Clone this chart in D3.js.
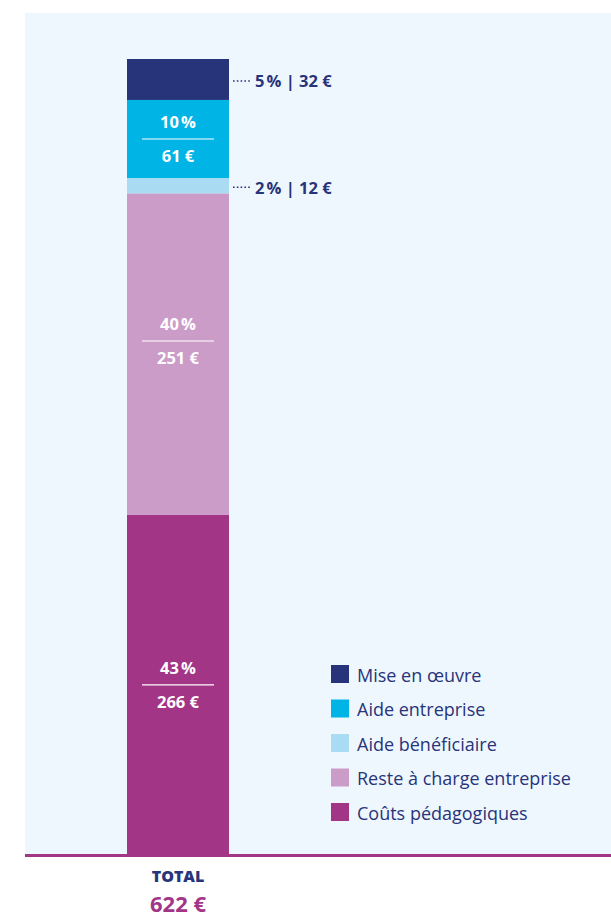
<!DOCTYPE html>
<html><head><meta charset="utf-8">
<script src="https://cdn.jsdelivr.net/npm/d3@7"></script>
<style>html,body{margin:0;padding:0;background:#fff;}svg{display:block;}</style>
</head><body>
<script>
// Data (stack order: bottom to top)
const categories = ["Coûts pédagogiques", "Reste à charge entreprise", "Aide bénéficiaire", "Aide entreprise", "Mise en œuvre"];
const values = [266, 251, 12, 61, 32];
const percents = [43, 40, 2, 10, 5];
const total = 622;
const legendOrder = ["Mise en œuvre", "Aide entreprise", "Aide bénéficiaire", "Reste à charge entreprise", "Coûts pédagogiques"];
const colors = ["#a33587", "#cc9cc9", "#a9dcf3", "#00b4e5", "#27347a"];
const insideLabel = [true, true, false, true, false];

const W = 611, H = 918;
const svg = d3.select("body").append("svg").attr("width", W).attr("height", H);
const navy = "#27347a", magenta = "#a33587";
const font = "'Open Sans', sans-serif";

// background panel
svg.append("rect").attr("x", 25).attr("y", 13).attr("width", W - 25).attr("height", 855 - 13).attr("fill", "#eff7fe");

const y = d3.scaleLinear().domain([0, total]).range([855, 59]);
const x = d3.scaleBand().domain(["TOTAL"]).range([127, 229]).padding(0);

// stacked data
const stackRows = [Object.fromEntries(categories.map((c, i) => [c, values[i]]))];
const series = d3.stack().keys(categories)(stackRows);
const color = d3.scaleOrdinal().domain(categories).range(colors);

svg.append("g").selectAll("rect").data(series).join("rect")
  .attr("x", x("TOTAL")).attr("width", x.bandwidth())
  .attr("y", d => y(d[0][1])).attr("height", d => y(d[0][0]) - y(d[0][1]))
  .attr("fill", d => color(d.key));

const cx = x("TOTAL") + x.bandwidth() / 2;
const labelShift = {"Reste à charge entreprise": -13};

series.forEach((s, i) => {
  const mid = (y(s[0][0]) + y(s[0][1])) / 2;
  if (insideLabel[i]) {
    const my = mid + (labelShift[s.key] || 0);
    const g = svg.append("g");
    g.append("line").attr("x1", cx - 36).attr("x2", cx + 36).attr("y1", my).attr("y2", my)
      .attr("stroke", "#fff").attr("stroke-width", 1.2);
    g.append("text").attr("x", cx).attr("y", my - 17).attr("text-anchor", "middle").attr("dominant-baseline", "central")
      .attr("fill", "#fff").attr("font-family", font).attr("font-weight", 700).attr("font-size", 16.5)
      .text(percents[i] + "\u202f%");
    g.append("text").attr("x", cx).attr("y", my + 17).attr("text-anchor", "middle").attr("dominant-baseline", "central")
      .attr("fill", "#fff").attr("font-family", font).attr("font-weight", 700).attr("font-size", 16.5)
      .text(values[i] + "\u00a0€");
  } else {
    const ly = mid + 1.5;
    svg.append("line").attr("x1", x.range()[1] + 4).attr("x2", x.range()[1] + 23).attr("y1", ly).attr("y2", ly)
      .attr("stroke", navy).attr("stroke-width", 1.6).attr("stroke-dasharray", "1.6,2.2");
    svg.append("text").attr("x", x.range()[1] + 26).attr("y", ly).attr("dominant-baseline", "central")
      .attr("fill", navy).attr("font-family", font).attr("font-weight", 700).attr("font-size", 16.5)
      .text(percents[i] + "\u202f% | " + values[i] + "\u00a0€");
  }
});

// baseline
svg.append("line").attr("x1", 25).attr("x2", W).attr("y1", 855.5).attr("y2", 855.5)
  .attr("stroke", magenta).attr("stroke-width", 3);

// total
svg.append("text").attr("x", cx).attr("y", 876).attr("text-anchor", "middle").attr("dominant-baseline", "central")
  .attr("fill", navy).attr("font-family", font).attr("font-weight", 800).attr("font-size", 16).text("TOTAL");
svg.append("text").attr("x", cx).attr("y", 903).attr("text-anchor", "middle").attr("dominant-baseline", "central")
  .attr("fill", magenta).attr("font-family", font).attr("font-weight", 700).attr("font-size", 22).text(total + "\u00a0€");

// legend
const lg = svg.append("g").attr("transform", "translate(331,665)");
legendOrder.forEach((k, i) => {
  const row = lg.append("g").attr("transform", `translate(0,${i * 34.5})`);
  row.append("rect").attr("width", 18).attr("height", 18).attr("fill", color(k));
  row.append("text").attr("x", 26).attr("y", 9.5).attr("dominant-baseline", "central")
    .attr("fill", navy).attr("font-family", font).attr("font-size", 18).text(k);
});
</script>
</body></html>
